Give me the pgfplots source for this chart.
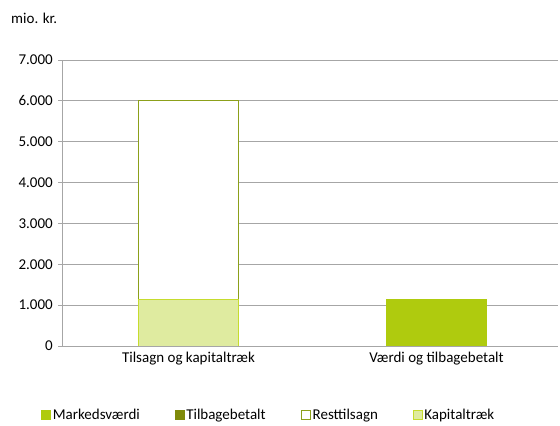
\documentclass[border=0pt]{standalone}
\usepackage{pgfplots}
\pgfplotsset{compat=1.18}
\usepackage{fontspec}
\setmainfont{Carlito}

\definecolor{markeds}{HTML}{AFCB0E}
\definecolor{tilbage}{HTML}{7F8A0A}
\definecolor{restline}{HTML}{8CA01A}
\definecolor{kapfill}{HTML}{DFEBA0}
\definecolor{kapline}{HTML}{C6DC2E}
\definecolor{gridgray}{HTML}{A6A6A6}

\newcommand{\chartfont}{\fontsize{15bp}{18bp}\selectfont}

\pgfplotsset{
  base/.style={
    at={(62bp,80bp)}, anchor=south west,
    scale only axis, width=496bp, height=286bp,
    xmin=-0.51, xmax=1.49, ymin=0, ymax=7000,
    ybar stacked, bar width=100bp,
  },
}

\begin{document}
\chartfont
\begin{tikzpicture}
\useasboundingbox (0,0) rectangle (560bp,426bp);

\begin{axis}[
  base,
  axis x line*=bottom, axis y line*=left,
  axis line style={draw=gridgray, line width=0.8bp, -},
  ymajorgrids, grid style={gridgray, line width=0.8bp},
  ytick={0,1000,...,7000},
  yticklabel style={/pgf/number format/1000 sep={.}, font=\chartfont},
  /pgf/number format/assume math mode=true,
  ytick align=outside, major tick length=4bp,
  tick style={gridgray, line width=0.8bp},
  xtick={0,1}, xticklabels={Tilsagn og kapitaltræk, Værdi og tilbagebetalt},
  x tick style={draw=none},
  extra x ticks={0.5}, extra x tick labels={},
  extra x tick style={xtick align=outside, tick style={draw=gridgray, line width=0.8bp}},
  xticklabel style={font=\chartfont, yshift=-1bp},
  legend columns=4,
  legend style={draw=none, fill=none, at={(0.417,-0.241)}, anchor=center,
    font=\chartfont,
    /tikz/every even column/.append style={column sep=33bp}},
  legend image code/.code={\draw[#1] (0bp,-4.5bp) rectangle (9bp,4.5bp);},
]
\addplot[fill=kapfill, draw=kapline, line width=1bp, forget plot] coordinates {(0,1150)};
\addplot[fill=white, draw=restline, line width=1bp, forget plot] coordinates {(0,4850)};

\addlegendimage{fill=markeds, draw=markeds}
\addlegendentry{Markedsværdi}
\addlegendimage{fill=tilbage, draw=tilbage}
\addlegendentry{Tilbagebetalt}
\addlegendimage{fill=white, draw=restline, line width=1bp}
\addlegendentry{Resttilsagn}
\addlegendimage{fill=kapfill, draw=kapline}
\addlegendentry{Kapitaltræk}
\end{axis}

\begin{axis}[base, hide axis]
\addplot[fill=markeds, draw=markeds, line width=1bp] coordinates {(1,1150)};
\end{axis}

\node[anchor=west] at (6bp,408bp) {mio. kr.};
\end{tikzpicture}
\end{document}
